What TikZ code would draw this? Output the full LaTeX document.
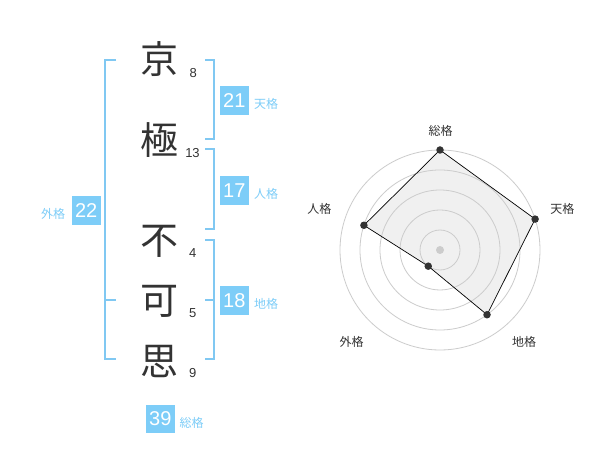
\documentclass[tikz,border=0pt]{standalone}
\usepackage{fontspec}
\usetikzlibrary{calc}
\setmainfont{Liberation Sans}
\newfontfamily\cjk{Noto Sans CJK JP}
\definecolor{blu}{HTML}{7DCDF8}
\definecolor{brk}{HTML}{80C8F2}
\definecolor{lbl}{HTML}{7DCDF8}
\definecolor{ink}{HTML}{333333}
\definecolor{ring}{HTML}{CCCCCC}
\definecolor{area}{HTML}{F0F0F0}
\begin{document}
\begin{tikzpicture}[x=1pt,y=-1pt,
  kanji/.style={inner sep=0pt,text=ink,font=\cjk\fontsize{38}{38}\selectfont},
  stroke/.style={inner sep=0pt,text=ink,font=\fontsize{13}{13}\selectfont},
  numbox/.style={fill=blu,text=white,minimum width=28.7pt,minimum height=28.7pt,inner sep=0pt,font=\fontsize{20}{20}\selectfont},
  lab/.style={inner sep=0pt,text=lbl,font=\cjk\fontsize{12}{12}\selectfont},
  bracket/.style={draw=brk,line width=2pt},
  rlab/.style={inner sep=0pt,text=ink,font=\cjk\fontsize{12}{12}\selectfont},
  dot/.style={circle,fill=ink,inner sep=0pt,minimum size=7.5pt}]
\useasboundingbox[fill=white] (0,0) rectangle (600,470);
% characters
\node[kanji] (k1) at (159,59) {京};
\node[kanji] (k2) at (159.5,140.5) {極};
\node[kanji] (k3) at (159.5,241.7) {不};
\node[kanji] (k4) at (159.5,301.5) {可};
\node[kanji] (k5) at (159.5,361) {思};
\node[stroke] (s1) at (193.3,72.7) {8};
\node[stroke] (s2) at (192.5,153.3) {13};
\node[stroke] (s3) at (192.7,252.7) {4};
\node[stroke] (s4) at (192.7,312.7) {5};
\node[stroke] (s5) at (192.7,372.7) {9};
% brackets
\draw[bracket] (116,60) -- (105,60) -- (105,359) -- (116,359);
\draw[bracket] (105,300) -- (116,300);
\draw[bracket] (205,60) -- (214,60) -- (214,139.3) -- (205,139.3);
\draw[bracket] (205,149) -- (214,149) -- (214,229.5) -- (205,229.5);
\draw[bracket] (205,240) -- (214,240) -- (214,359) -- (205,359);
\draw[bracket] (205,300) -- (214,300);
% boxes
\node[numbox] (b1) at (234.3,100.3) {21};
\node[lab] (t1) at (266,104) {天格};
\node[numbox] (b2) at (234.3,190.3) {17};
\node[lab] (t2) at (266,194) {人格};
\node[numbox] (b3) at (86.2,210.3) {22};
\node[lab] (t3) at (53,214) {外格};
\node[numbox] (b4) at (234.3,300.3) {18};
\node[lab] (t4) at (266,304) {地格};
\node[numbox] (b5) at (160.3,419) {39};
\node[lab] (t5) at (191.7,422.7) {総格};
% radar
\coordinate (c) at (440,250);
\coordinate (p1) at ($(c)+(-90:100)$);
\coordinate (p2) at ($(c)+(-18:100)$);
\coordinate (p3) at ($(c)+(54:80)$);
\coordinate (p4) at ($(c)+(126:20)$);
\coordinate (p5) at ($(c)+(198:80)$);
\fill[area] (p1) -- (p2) -- (p3) -- (p4) -- (p5) -- cycle;
\foreach \r in {20,40,60,80,100} \draw[ring,line width=0.8pt] (c) circle[radius=\r];
\draw[black,line width=0.7pt] (p1) -- (p2) -- (p3) -- (p4) -- (p5) -- cycle;
\node[circle,fill=ring,inner sep=0pt,minimum size=8pt] (cd) at (c) {};
\foreach \i in {1,...,5} \node[dot] (d\i) at (p\i) {};
\node[rlab] (r1) at (440.7,130.7) {総格};
\node[rlab] (r2) at (562.3,208.7) {天格};
\node[rlab] (r3) at (524,341.7) {地格};
\node[rlab] (r4) at (351.7,341.7) {外格};
\node[rlab] (r5) at (319.3,208.7) {人格};
\end{tikzpicture}
\end{document}
